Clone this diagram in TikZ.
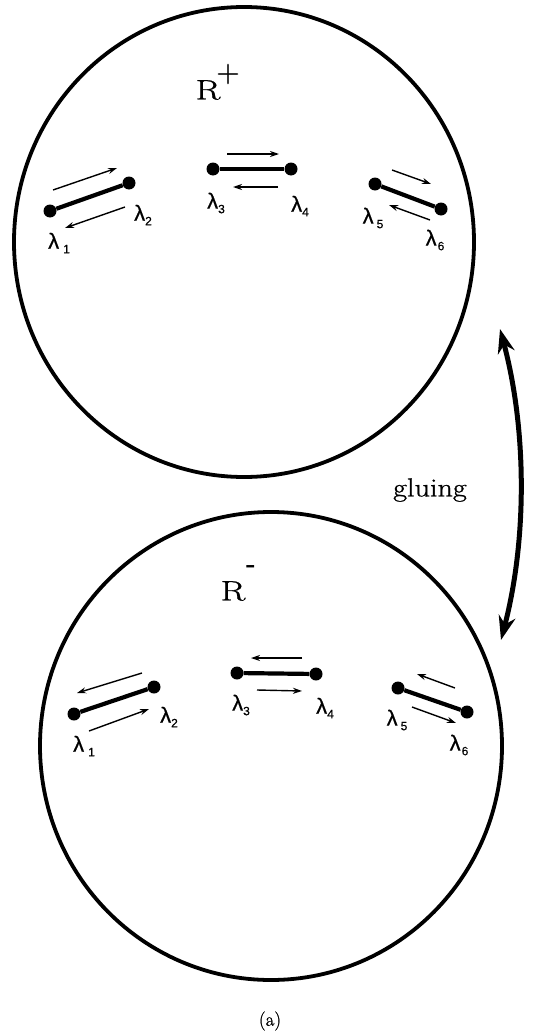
\documentclass[tikz,border=0pt]{standalone}
\usepackage{fontspec}
\newfontfamily\labfont{Liberation Sans}[FakeBold=0.6]
\newfontfamily\heavyfont{Latin Modern Roman}[FakeBold=0.9]
\usetikzlibrary{arrows.meta}
\newcommand{\lsub}[2]{λ\hspace{#1}\raisebox{-4.5pt}{\fontsize{12}{12}\selectfont #2}}
\begin{document}
\begin{tikzpicture}[x=1pt,y=-1pt,
  rim/.style={line width=3.8pt},
  dotnode/.style={circle,fill=black,inner sep=0pt,minimum size=13pt},
  seg/.style={line width=4.2pt},
  small/.style={line width=1.4pt,-{Stealth[length=9pt,width=6pt]}},
  glue/.style={line width=5pt,{Stealth[length=24pt,width=17pt]}-{Stealth[length=24pt,width=17pt]}},
  lam/.style={font=\labfont\fontsize{22}{22}\selectfont,inner sep=0pt},
  bigR/.style={font=\heavyfont\fontsize{28}{28}\selectfont,inner sep=0pt},
  word/.style={font=\heavyfont\fontsize{26}{26}\selectfont,inner sep=0pt}]
\useasboundingbox (0,0) rectangle (534,1033);
\fill[white] (0,0) rectangle (534,1033);

% circles
\draw[rim] (244,242) ellipse [x radius=230pt, y radius=235pt];
\draw[rim] (271,746) ellipse [x radius=231pt, y radius=234pt];

% R labels
\node[bigR] (Rp) at (208,90) {\scalebox{1.3}[1]{R}};
\node[bigR,font=\heavyfont\fontsize{32}{32}\selectfont] (Rpsup) at (228,74) {+};
\node[bigR] (Rm) at (233,591) {\scalebox{1.3}[1]{R}};
\node[font=\fontsize{26}{26}\selectfont\bfseries,inner sep=0pt] (Rmsup) at (251,569) {-};

% ---------- top circle ----------
\node[dotnode] (t1) at (50,211) {};
\node[dotnode] (t2) at (129,183) {};
\node[dotnode] (t3) at (213,169) {};
\node[dotnode] (t4) at (291,169) {};
\node[dotnode] (t5) at (375,184) {};
\node[dotnode] (t6) at (441,209) {};
\draw[seg] (t1) -- (t2);
\draw[seg] (t3) -- (t4);
\draw[seg] (t5) -- (t6);

\coordinate (ta1) at (53,190);  \coordinate (tb1) at (117,168);
\coordinate (ta2) at (125,207); \coordinate (tb2) at (65,228);
\coordinate (ta3) at (227,154); \coordinate (tb3) at (279,154);
\coordinate (ta4) at (278,187); \coordinate (tb4) at (233,187);
\coordinate (ta5) at (392,170); \coordinate (tb5) at (431,184);
\coordinate (ta6) at (430,220); \coordinate (tb6) at (389,205);
\draw[small] (ta1) -- (tb1);
\draw[small] (ta2) -- (tb2);
\draw[small] (ta3) -- (tb3);
\draw[small] (ta4) -- (tb4);
\draw[small] (ta5) -- (tb5);
\draw[small] (ta6) -- (tb6);

\node[lam] (tl1) at (59,243) {\lsub{4pt}{1}};
\node[lam] (tl2) at (143,215) {\lsub{0pt}{2}};
\node[lam] (tl3) at (216,203) {\lsub{0pt}{3}};
\node[lam] (tl4) at (300,206) {\lsub{0pt}{4}};
\node[lam] (tl5) at (373,218) {\lsub{3pt}{5}};
\node[lam] (tl6) at (435,240) {\lsub{1pt}{6}};

% ---------- bottom circle ----------
\node[dotnode] (b1) at (74,714) {};
\node[dotnode] (b2) at (154,687) {};
\node[dotnode] (b3) at (237,673) {};
\node[dotnode] (b4) at (316,674) {};
\node[dotnode] (b5) at (398,688) {};
\node[dotnode] (b6) at (467,712) {};
\draw[seg] (b1) -- (b2);
\draw[seg] (b3) -- (b4);
\draw[seg] (b5) -- (b6);

\coordinate (ba1) at (142,673); \coordinate (bb1) at (77,693);
\coordinate (ba2) at (89,731);  \coordinate (bb2) at (149,709);
\coordinate (ba3) at (302,658); \coordinate (bb3) at (251,658);
\coordinate (ba4) at (257,690); \coordinate (bb4) at (302,691);
\coordinate (ba5) at (455,688); \coordinate (bb5) at (417,674);
\coordinate (ba6) at (412,707); \coordinate (bb6) at (456,723);
\draw[small] (ba1) -- (bb1);
\draw[small] (ba2) -- (bb2);
\draw[small] (ba3) -- (bb3);
\draw[small] (ba4) -- (bb4);
\draw[small] (ba5) -- (bb5);
\draw[small] (ba6) -- (bb6);

\node[lam] (bl1) at (84,746) {\lsub{4pt}{1}};
\node[lam] (bl2) at (169,717) {\lsub{0pt}{2}};
\node[lam] (bl3) at (241,705) {\lsub{0pt}{3}};
\node[lam] (bl4) at (325,708) {\lsub{0pt}{4}};
\node[lam] (bl5) at (397,720) {\lsub{3pt}{5}};
\node[lam] (bl6) at (459,745) {\lsub{1pt}{6}};

% ---------- gluing ----------
\coordinate (g1) at (500,329);
\coordinate (g2) at (501,640);
\draw[glue] (g1) .. controls (527,430) and (527,540) .. (g2);
\node[word] (glu) at (430,490) {\scalebox{1.16}[1]{gluing}};

\node[font=\heavyfont\fontsize{19}{19}\selectfont,inner sep=0pt] (cap) at (270,1021) {(a)};
\end{tikzpicture}
\end{document}
